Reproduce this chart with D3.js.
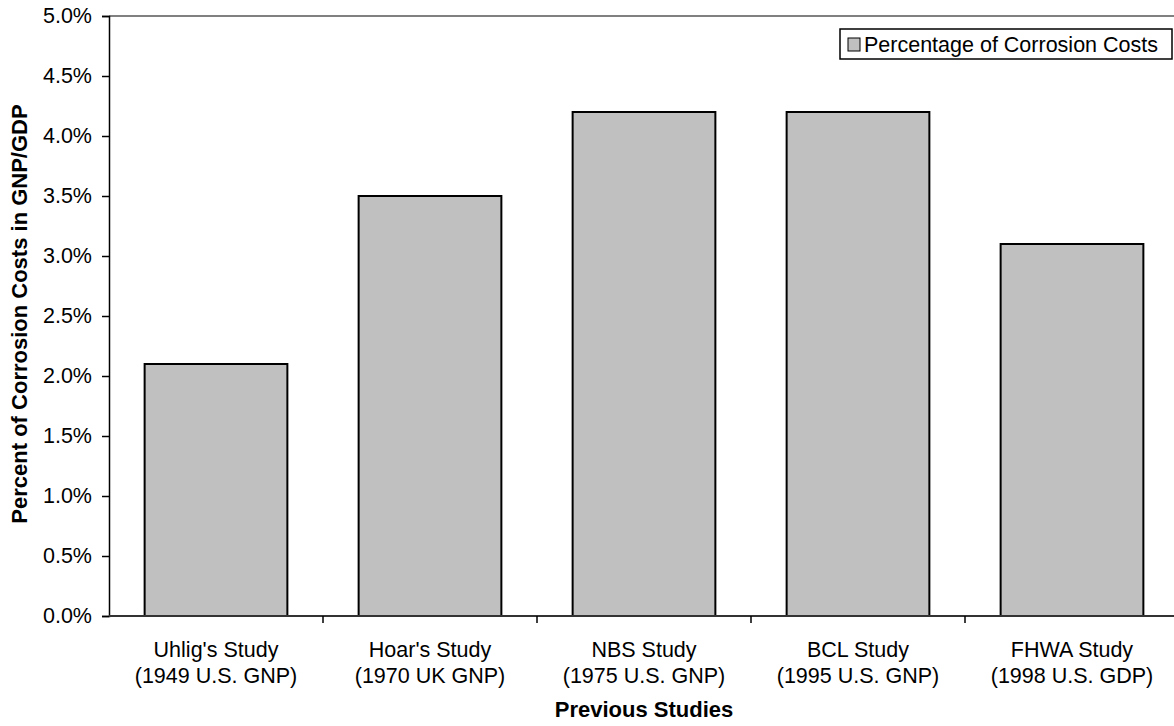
<!DOCTYPE html>
<html>
<head>
<meta charset="utf-8">
<script src="https://cdn.jsdelivr.net/npm/d3@7"></script>
<style>
  body { margin: 0; background: #fff; }
  text { font-family: "Liberation Sans", Arial, sans-serif; fill: #000; }
</style>
</head>
<body>
<div id="chart"></div>
<script>
// chart data
var studies = ["Uhlig's Study", "Hoar's Study", "NBS Study", "BCL Study", "FHWA Study"];
var studyBasis = ["(1949 U.S. GNP)", "(1970 UK GNP)", "(1975 U.S. GNP)", "(1995 U.S. GNP)", "(1998 U.S. GDP)"];
var costPercent = [2.1, 3.5, 4.2, 4.2, 3.1];
var yTicks = [0, 0.5, 1, 1.5, 2, 2.5, 3, 3.5, 4, 4.5, 5];

var W = 1174, H = 726;
var margin = { top: 16, right: -5, bottom: 110, left: 109 };
var width = W - margin.left - margin.right;
var height = H - margin.top - margin.bottom;
var fontSize = "21.5px";

var svg = d3.select("#chart").append("svg")
    .attr("width", W)
    .attr("height", H);

var g = svg.append("g")
    .attr("transform", "translate(" + margin.left + "," + margin.top + ")");

var x = d3.scaleBand()
    .domain(studies)
    .range([0, width])
    .paddingInner(0.333)
    .paddingOuter(0.1665);

var xOuter = d3.scaleBand()
    .domain(studies)
    .range([0, width]);

var y = d3.scaleLinear()
    .domain([0, 5])
    .range([height, 0]);

// top border of plot area
g.append("line")
    .attr("x1", 0).attr("x2", width)
    .attr("y1", 0).attr("y2", 0)
    .attr("stroke", "#808080")
    .attr("stroke-width", 2);

// bars
g.selectAll("rect.bar")
    .data(costPercent)
    .enter().append("rect")
    .attr("class", "bar")
    .attr("x", function(d, i) { return x(studies[i]); })
    .attr("y", function(d) { return y(d); })
    .attr("width", x.bandwidth())
    .attr("height", function(d) { return height - y(d); })
    .attr("fill", "#c0c0c0")
    .attr("stroke", "#000")
    .attr("stroke-width", 2);

// y axis
var yAxis = g.append("g")
    .call(d3.axisLeft(y)
        .tickValues(yTicks)
        .tickSize(7)
        .tickPadding(10)
        .tickFormat(function(d) { return d.toFixed(1) + "%"; }));
yAxis.select(".domain").attr("stroke", "#000").attr("stroke-width", 1.5);
yAxis.selectAll(".tick line").attr("stroke", "#000").attr("stroke-width", 1.5);
yAxis.selectAll(".tick text")
    .style("font-family", "Liberation Sans, Arial, sans-serif")
    .style("font-size", fontSize)
    .attr("fill", "#000");

// x axis line with ticks at category boundaries
g.append("line")
    .attr("x1", 0).attr("x2", width)
    .attr("y1", height).attr("y2", height)
    .attr("stroke", "#333")
    .attr("stroke-width", 2);

g.selectAll("line.xtick")
    .data(studies)
    .enter().append("line")
    .attr("class", "xtick")
    .attr("x1", function(d) { return xOuter(d) + xOuter.bandwidth(); })
    .attr("x2", function(d) { return xOuter(d) + xOuter.bandwidth(); })
    .attr("y1", height)
    .attr("y2", height + 7)
    .attr("stroke", "#000")
    .attr("stroke-width", 1.5);

// category labels
var cat = g.selectAll("text.cat")
    .data(studies)
    .enter().append("text")
    .attr("class", "cat")
    .attr("text-anchor", "middle")
    .style("font-size", fontSize);
cat.append("tspan")
    .attr("x", function(d) { return x(d) + x.bandwidth() / 2; })
    .attr("y", height + 41)
    .text(function(d) { return d; });
cat.append("tspan")
    .attr("x", function(d) { return x(d) + x.bandwidth() / 2; })
    .attr("y", height + 67)
    .text(function(d, i) { return studyBasis[i]; });

// axis titles
svg.append("text")
    .attr("x", 644)
    .attr("y", 717)
    .attr("text-anchor", "middle")
    .style("font-size", "22px")
    .style("font-weight", "bold")
    .text("Previous Studies");

svg.append("text")
    .attr("transform", "translate(27,314) rotate(-90)")
    .attr("text-anchor", "middle")
    .style("font-size", "22px")
    .style("font-weight", "bold")
    .text("Percent of Corrosion Costs in GNP/GDP");

// legend
var legend = svg.append("g").attr("transform", "translate(840,29)");
legend.append("rect")
    .attr("width", 332).attr("height", 30)
    .attr("fill", "#fff")
    .attr("stroke", "#000")
    .attr("stroke-width", 1.5);
legend.append("rect")
    .attr("x", 8).attr("y", 9)
    .attr("width", 12).attr("height", 13)
    .attr("fill", "#c0c0c0")
    .attr("stroke", "#000")
    .attr("stroke-width", 1);
legend.append("text")
    .attr("x", 24).attr("y", 23)
    .style("font-size", fontSize)
    .text("Percentage of Corrosion Costs");
</script>
</body>
</html>
